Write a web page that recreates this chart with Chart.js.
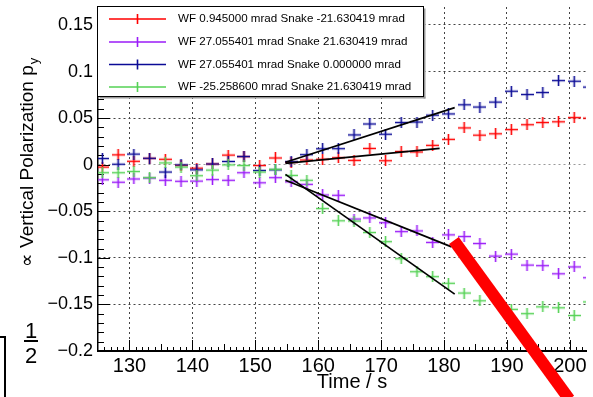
<!DOCTYPE html>
<html>
<head>
<meta charset="utf-8">
<script src="https://cdn.jsdelivr.net/npm/chart.js@4/dist/chart.umd.min.js"></script>
<style>
  html, body { margin: 0; padding: 0; background: #fff; overflow: hidden; }
  canvas { display: block; }
</style>
</head>
<body>
<canvas id="c" width="593" height="397"></canvas>
<script>
// Measurement times (s)
const times = [125.7, 128.2, 130.7, 133.2, 135.7, 138.2, 140.7, 143.2, 145.7, 148.2,
               150.7, 153.2, 155.7, 158.2, 160.7, 163.2, 165.7, 168.2, 170.7, 173.2,
               175.7, 178.2, 180.7, 183.2, 185.7, 188.2, 190.7, 193.2, 195.7, 198.2,
               200.7, 203.2];

// Vertical polarization for each WF / Snake setting
const polRed = [-0.0026, 0.0106, 0.0037, 0.0068, 0.0058, -0.0007, -0.0037, 0.0008, 0.0103, 0.0087,
                -0.0009, 0.0072, 0.0026, 0.0051, 0.0058, 0.0075, 0.0047, 0.0175, 0.0043, 0.0142,
                0.0137, 0.0208, 0.0272, 0.0395, 0.0317, 0.0332, 0.0377, 0.0429, 0.0453, 0.0461,
                0.0506, 0.0500];
const polViolet = [-0.0162, -0.0188, -0.0153, -0.0144, -0.0167, -0.0178, -0.0176, -0.0160, -0.0167, -0.0086,
                   -0.0194, -0.0139, -0.0184, -0.0211, -0.0325, -0.0328, -0.0583, -0.0571, -0.0623, -0.0718,
                   -0.0711, -0.0834, -0.0753, -0.0771, -0.0846, -0.0981, -0.0960, -0.1078, -0.1084, -0.1171,
                   -0.1097, -0.1213];
const polBlue = [0.0066, 0.0005, 0.0114, 0.0069, -0.0079, -0.0002, -0.0055, 0.0008, 0.0035, 0.0088,
                 -0.0062, -0.0055, 0.0033, 0.0108, 0.0171, 0.0172, 0.0320, 0.0437, 0.0327, 0.0453,
                 0.0458, 0.0532, 0.0545, 0.0643, 0.0619, 0.0672, 0.0789, 0.0753, 0.0775, 0.0903,
                 0.0896, 0.0833];
const polGreen = [-0.0086, -0.0086, -0.0073, -0.0139, 0.0019, -0.0026, -0.0118, -0.0058, -0.0002, -0.0009,
                  -0.0079, -0.0049, -0.0115, -0.0167, -0.0471, -0.0602, -0.0605, -0.0728, -0.0826, -0.1009,
                  -0.1149, -0.1202, -0.1273, -0.1378, -0.1461, -0.1434, -0.1553, -0.1599, -0.1526, -0.1536,
                  -0.1619, -0.1473];

// Straight-line fits over the first part of the ramp (start, end)
const fitRedT = [154.8, 179.3],    fitRedP = [0.0015, 0.0176];
const fitVioletT = [154.8, 181.2], fitVioletP = [-0.0167, -0.0882];
const fitBlueT = [154.8, 181.7],   fitBlueP = [0.0027, 0.0613];
const fitGreenT = [154.8, 181.7],  fitGreenP = [-0.0104, -0.1390];

// Highlight stroke (start, end)
const markT = [181.57, 199.91], markP = [-0.0813, -0.2518];

const seriesLabels = [
  'WF 0.945000 mrad Snake -21.630419 mrad',
  'WF 27.055401 mrad Snake 21.630419 mrad',
  'WF 27.055401 mrad Snake 0.000000 mrad',
  'WF -25.258600 mrad Snake 21.630419 mrad'
];
const seriesColors = ['#ff0000', '#9b1cf8', '#0b0b96', '#55d255'];

const xTicks = [130, 140, 150, 160, 170, 180, 190, 200];
const yTicks = [-0.2, -0.15, -0.1, -0.05, 0, 0.05, 0.1, 0.15];

const FONT = "'Liberation Sans', Arial, Helvetica, sans-serif";

// error-bar style marker: horizontal and vertical bar
function crossMarker(color) {
  const c = document.createElement('canvas');
  c.width = 13; c.height = 11;
  const g = c.getContext('2d');
  g.strokeStyle = color;
  g.lineWidth = 1.6;
  g.beginPath();
  g.moveTo(0, 5.5); g.lineTo(13, 5.5);
  g.moveTo(6.5, 0); g.lineTo(6.5, 11);
  g.stroke();
  return c;
}

const pts = (xs, ys) => xs.map((x, i) => ({ x: x, y: ys[i] }));

function series(i, vals, order) {
  return {
    label: seriesLabels[i],
    data: pts(times, vals),
    showLine: false,
    pointStyle: crossMarker(seriesColors[i]),
    pointRadius: 6,
    borderColor: seriesColors[i],
    backgroundColor: seriesColors[i],
    order: order
  };
}
function fitLine(ts, ps) {
  return {
    label: 'fit',
    data: pts(ts, ps),
    showLine: true,
    borderColor: '#000',
    borderWidth: 1.7,
    pointRadius: 0,
    order: 1
  };
}

const innerTicks = {
  id: 'innerTicks',
  beforeDatasetsDraw(chart) {
    const { ctx, chartArea: a, scales: { x, y } } = chart;
    ctx.save();
    ctx.strokeStyle = '#000';
    ctx.lineWidth = 1;
    for (let t = 126; t <= 202; t++) {
      const px = Math.round(x.getPixelForValue(t)) + 0.5;
      const len = t % 10 === 0 ? 11 : (t % 5 === 0 ? 7 : 4);
      ctx.beginPath(); ctx.moveTo(px, a.bottom); ctx.lineTo(px, a.bottom - len); ctx.stroke();
    }
    for (let i = -20; i <= 16; i++) {
      const py = Math.round(y.getPixelForValue(i / 100)) + 0.5;
      const len = i % 5 === 0 ? 12 : 6;
      ctx.beginPath(); ctx.moveTo(a.left, py); ctx.lineTo(a.left + len, py); ctx.stroke();
    }
    ctx.restore();
  }
};

const decorations = {
  id: 'decorations',
  afterDraw(chart) {
    const ctx = chart.ctx;
    ctx.save();
    // legend box
    const bx = 97.5, by = 6.5, bw = 326, bh = 90;
    ctx.fillStyle = '#fff';
    ctx.fillRect(bx, by, bw, bh);
    ctx.fillStyle = '#999';
    ctx.fillRect(bx + bw, by + 2, 2, bh);
    ctx.fillRect(bx + 2, by + bh, bw, 2);
    ctx.strokeStyle = '#000';
    ctx.lineWidth = 1;
    ctx.strokeRect(bx, by, bw, bh);
    ctx.font = '11.6px ' + FONT;
    ctx.textBaseline = 'middle';
    ctx.textAlign = 'left';
    const rowY = [19, 42, 64.5, 87];
    seriesLabels.forEach((lab, i) => {
      const yy = rowY[i];
      ctx.strokeStyle = seriesColors[i];
      ctx.lineWidth = 1.6;
      ctx.beginPath();
      ctx.moveTo(109, yy); ctx.lineTo(166, yy);
      ctx.moveTo(137.5, yy - 5); ctx.lineTo(137.5, yy + 5);
      ctx.stroke();
      ctx.fillStyle = '#000';
      ctx.fillText(lab, 178, yy);
    });

    // x axis title
    ctx.fillStyle = '#000';
    ctx.font = '20px ' + FONT;
    ctx.textAlign = 'center';
    ctx.textBaseline = 'alphabetic';
    ctx.fillText('Time / s', 352, 388);

    // y axis title with subscript
    ctx.save();
    ctx.translate(33, 163);
    ctx.rotate(-Math.PI / 2);
    const main = '\u221D Vertical Polarization p';
    ctx.font = '19px ' + FONT;
    const wMain = ctx.measureText(main).width;
    ctx.font = '13px ' + FONT;
    const wSub = ctx.measureText('y').width;
    const x0 = -(wMain + wSub) / 2;
    ctx.textAlign = 'left';
    ctx.font = '19px ' + FONT;
    ctx.fillText(main, x0, 0);
    ctx.font = '13px ' + FONT;
    ctx.fillText('y', x0 + wMain + 1, 5);
    ctx.restore();

    // fraction at lower left
    ctx.font = '22px ' + FONT;
    ctx.textAlign = 'center';
    ctx.textBaseline = 'alphabetic';
    ctx.fillText('1', 31, 338);
    ctx.fillText('2', 31, 363);
    ctx.fillRect(24, 340, 14, 2);
    // bracket at lower left
    ctx.fillRect(0, 336, 6, 2);
    ctx.fillRect(4, 336, 2, 61);
    ctx.restore();
  }
};

const fmt = v => {
  if (v === 0) return '0';
  const s = String(Math.round(Math.abs(v) * 100) / 100);
  return v < 0 ? '\u2212' + s : s;
};

new Chart(document.getElementById('c'), {
  type: 'scatter',
  data: {
    datasets: [
      {
        label: 'mark',
        data: pts(markT, markP),
        showLine: true,
        borderColor: '#ff0000',
        borderWidth: 12,
        borderCapStyle: 'butt',
        pointRadius: 0,
        clip: false,
        order: 0
      },
      fitLine(fitRedT, fitRedP),
      fitLine(fitVioletT, fitVioletP),
      fitLine(fitBlueT, fitBlueP),
      fitLine(fitGreenT, fitGreenP),
      series(3, polGreen, 2),
      series(2, polBlue, 3),
      series(1, polViolet, 4),
      series(0, polRed, 5)
    ]
  },
  options: {
    responsive: false,
    devicePixelRatio: 1,
    animation: false,
    events: [],
    layout: { padding: 0 },
    plugins: { legend: { display: false }, tooltip: { enabled: false } },
    scales: {
      x: {
        type: 'linear',
        min: 125,
        max: 202.57,
        afterBuildTicks: s => { s.ticks = xTicks.map(v => ({ value: v })); },
        afterFit: s => { s.height = 46; s.paddingLeft = 0; s.paddingRight = 0; },
        ticks: {
          font: { family: FONT, size: 20 },
          color: '#000',
          padding: 3,
          maxRotation: 0,
          autoSkip: false,
          callback: v => String(v)
        },
        grid: { drawTicks: false, color: '#444', lineWidth: 1 },
        border: { display: true, color: '#000', width: 2, dash: [2, 3] }
      },
      y: {
        type: 'linear',
        min: -0.2,
        max: 0.1693,
        afterBuildTicks: s => { s.ticks = yTicks.map(v => ({ value: v })); },
        afterFit: s => { s.width = 98; s.paddingTop = 0; s.paddingBottom = 0; },
        ticks: {
          font: { family: FONT, size: 18 },
          color: '#000',
          padding: 5,
          autoSkip: false,
          callback: fmt
        },
        grid: {
          drawTicks: false,
          lineWidth: 1,
          color: c => (c.tick && c.tick.value === 0) ? '#999' : '#444'
        },
        border: { display: true, color: '#000', width: 1.5, dash: [2, 3] }
      }
    }
  },
  plugins: [innerTicks, decorations]
});
</script>
</body>
</html>
